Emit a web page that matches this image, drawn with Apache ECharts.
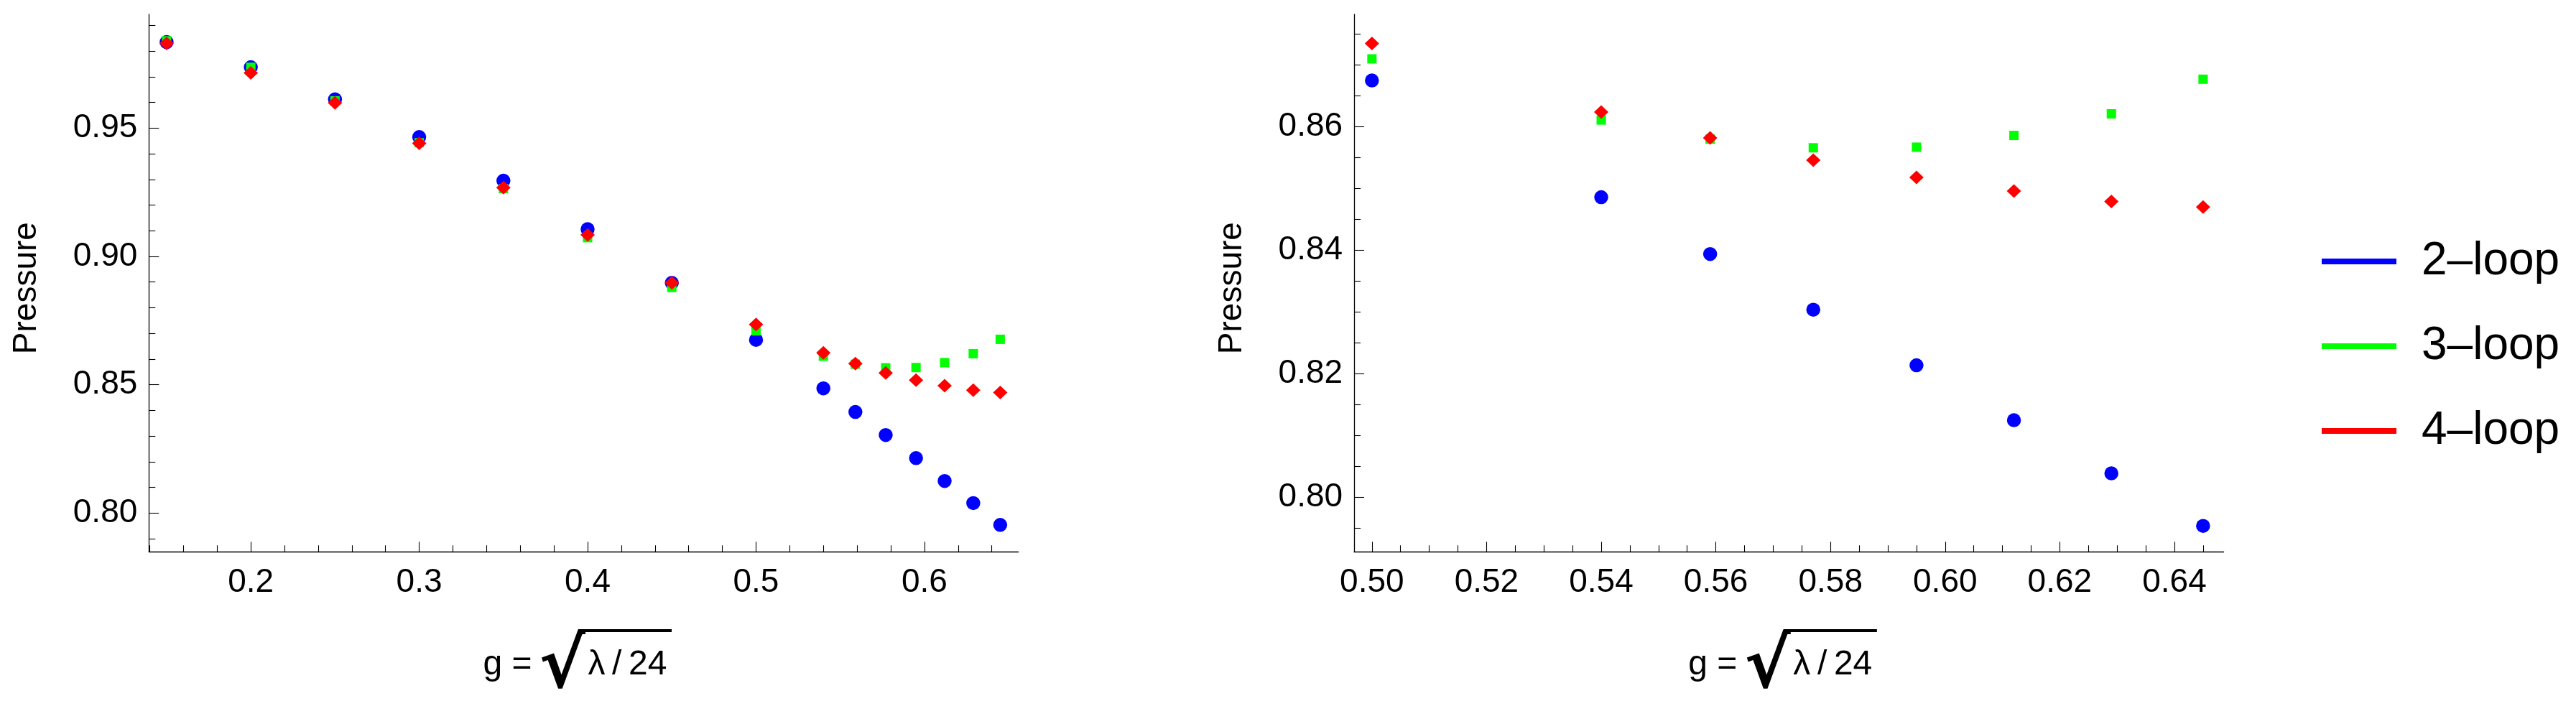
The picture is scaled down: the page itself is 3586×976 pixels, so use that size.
<!DOCTYPE html>
<html>
<head>
<meta charset="utf-8">
<script src="https://cdn.jsdelivr.net/npm/echarts@6/dist/echarts.min.js"></script>
<style>html,body{margin:0;padding:0;background:#fff}#c{width:3586px;height:976px}</style>
</head>
<body>
<div id="c"></div>
<script>
// ---------- data ----------
const g     = [0.15, 0.20, 0.25, 0.30, 0.35, 0.40, 0.45, 0.50, 0.540, 0.559, 0.577, 0.595, 0.612, 0.629, 0.645];
const loop2 = [0.9835, 0.9737, 0.9612, 0.9465, 0.9295, 0.9106, 0.8897, 0.8675, 0.8486, 0.8394, 0.8304, 0.8214, 0.8125, 0.8039, 0.7954];
const loop3 = [0.9840, 0.9737, 0.9606, 0.9443, 0.9264, 0.9073, 0.8879, 0.8710, 0.8611, 0.8580, 0.8566, 0.8567, 0.8586, 0.8621, 0.8677];
const loop4 = [0.9830, 0.9715, 0.9598, 0.9441, 0.9268, 0.9084, 0.8897, 0.8735, 0.8624, 0.8582, 0.8546, 0.8518, 0.8496, 0.8479, 0.8470];
const seriesNames = ['2\u2013loop', '3\u2013loop', '4\u2013loop'];
const yTitle = 'Pressure';

const leftXMajor  = [0.2, 0.3, 0.4, 0.5, 0.6];
const leftXMinor  = [0.14, 0.16, 0.18, 0.22, 0.24, 0.26, 0.28, 0.32, 0.34, 0.36, 0.38, 0.42, 0.44, 0.46, 0.48, 0.52, 0.54, 0.56, 0.58, 0.62, 0.64];
const leftYMajor  = [0.80, 0.85, 0.90, 0.95];
const leftYMinor  = [0.79, 0.81, 0.82, 0.83, 0.84, 0.86, 0.87, 0.88, 0.89, 0.91, 0.92, 0.93, 0.94, 0.96, 0.97, 0.98, 0.99];
const rightXMajor = [0.50, 0.52, 0.54, 0.56, 0.58, 0.60, 0.62, 0.64];
const rightXMinor = [0.505, 0.51, 0.515, 0.525, 0.53, 0.535, 0.545, 0.55, 0.555, 0.565, 0.57, 0.575, 0.585, 0.59, 0.595, 0.605, 0.61, 0.615, 0.625, 0.63, 0.635, 0.645];
const rightYMajor = [0.80, 0.82, 0.84, 0.86];
const rightYMinor = [0.795, 0.805, 0.81, 0.815, 0.825, 0.83, 0.835, 0.845, 0.85, 0.855, 0.865, 0.87, 0.875];

// ---------- layout / style ----------
const FONT = 'Liberation Sans';
const colors = ['#0000ff', '#00ff00', '#ff0000'];
const symbols = ['circle', 'rect', 'diamond'];
const symbolSizes = [19.5, 13, [20, 19]];
const grids = [
  {left: 207.3, top: 20, width: 1210.4, height: 748.3},
  {left: 1885.1, top: 20, width: 1210.5, height: 748.3}
];
const ranges = [
  {x: [0.1395, 0.6558], y: [0.7849, 0.9943], xd: 1, yd: 2},
  {x: [0.4969, 0.6486], y: [0.7912, 0.8782], xd: 2, yd: 2}
];
const ticks = [
  {xM: leftXMajor, xm: leftXMinor, yM: leftYMajor, ym: leftYMinor},
  {xM: rightXMajor, xm: rightXMinor, yM: rightYMajor, ym: rightYMinor}
];
const axisCol = '#000';

function mkAxis(isX, gi, major, values, digits, withName) {
  const r = ranges[gi];
  const ax = {
    type: 'value', gridIndex: gi,
    min: isX ? r.x[0] : r.y[0], max: isX ? r.x[1] : r.y[1],
    position: isX ? 'bottom' : 'left',
    splitLine: {show: false},
    axisLine: {show: major, onZero: false, lineStyle: {color: axisCol, width: 1.3}},
    axisTick: {show: true, inside: true, length: major ? 14 : 9, customValues: values,
               lineStyle: {color: axisCol, width: 1.1}},
    axisLabel: major ? {show: true, customValues: values, fontSize: 46, fontFamily: FONT, color: '#000',
                        margin: isX ? 20 : 16, formatter: v => v.toFixed(digits)} : {show: false}
  };
  if (withName) {
    ax.name = yTitle;
    ax.nameLocation = 'middle';
    ax.nameRotate = 90;
    ax.nameGap = 147;
    ax.nameTextStyle = {fontSize: 46, fontFamily: FONT, color: '#000', padding: [0, 14, 0, 0]};
  }
  return ax;
}

const xAxes = [], yAxes = [], series = [];
for (let gi = 0; gi < 2; gi++) {
  const t = ticks[gi], r = ranges[gi];
  xAxes.push(mkAxis(true, gi, true, t.xM, r.xd, false));
  xAxes.push(mkAxis(true, gi, false, t.xm, r.xd, false));
  yAxes.push(mkAxis(false, gi, true, t.yM, r.yd, true));
  yAxes.push(mkAxis(false, gi, false, t.ym, r.yd, false));
  const gMin = gi === 0 ? 0 : 0.5;
  [loop2, loop3, loop4].forEach((arr, k) => {
    const pts = [];
    g.forEach((gx, i) => { if (gx >= gMin - 1e-9) pts.push([gx, arr[i]]); });
    series.push({
      type: 'scatter', name: seriesNames[k], xAxisIndex: gi * 2, yAxisIndex: gi * 2,
      data: pts, symbol: symbols[k], symbolSize: symbolSizes[k],
      itemStyle: {color: colors[k], opacity: 1}, z: 2 + k
    });
  });
}

// ---------- x axis title:  g = sqrt(lambda/24) ----------
const ctx = document.createElement('canvas').getContext('2d');
function meas(text, size, fam, weight) {
  ctx.font = (weight ? weight + ' ' : '') + size + 'px ' + fam;
  ctx.textBaseline = 'alphabetic';
  const a = ctx.measureText(text);
  ctx.textBaseline = 'middle';
  const m = ctx.measureText(text);
  return {L: a.actualBoundingBoxLeft, R: a.actualBoundingBoxRight,
          ascA: a.actualBoundingBoxAscent, desA: a.actualBoundingBoxDescent,
          ascM: m.actualBoundingBoxAscent, mid: a.actualBoundingBoxAscent - m.actualBoundingBoxAscent};
}
const XT = 48;
const radFam = 'DejaVu Sans';
const radWeight = 'bold';
const rm = meas('\u221a', 100, radFam, radWeight);
const radSize = 100 * 83 / (rm.ascA + rm.desA);
const fracText = '\u03bb\u2009/\u200924';
function xTitle(cx) {
  const baseline = 939;
  const ga = meas('g =', XT, FONT);
  const fr = meas(fracText, XT, FONT);
  const rr = meas('\u221a', radSize, radFam, radWeight);
  const radTop = 876, radRight = cx + 3;
  const radX = radRight - rr.R;
  const radInkLeft = radX - rr.L;
  const els = [];
  els.push({type: 'text', x: radInkLeft - 15 - ga.R, y: baseline - ga.mid,
    style: {text: 'g =', fontSize: XT, fontFamily: FONT, fill: '#000', align: 'left', verticalAlign: 'middle'}});
  els.push({type: 'text', x: radX, y: radTop + rr.ascM,
    style: {text: '\u221a', fontSize: radSize, fontFamily: radFam, fontWeight: radWeight, fill: '#000', align: 'left', verticalAlign: 'middle'}});
  els.push({type: 'text', x: cx + 6 + fr.L, y: baseline - fr.mid,
    style: {text: fracText, fontSize: XT, fontFamily: FONT, fill: '#000', align: 'left', verticalAlign: 'middle'}});
  els.push({type: 'line', shape: {x1: radRight - 2, y1: radTop + 2, x2: cx + 122.5, y2: radTop + 2},
    style: {stroke: '#000', lineWidth: 4}});
  return els;
}
const graphics = [];
grids.forEach(gr => xTitle(gr.left + gr.width / 2).forEach(e => graphics.push(e)));

const chart = echarts.init(document.getElementById('c'), null, {renderer: 'canvas'});
chart.setOption({
  animation: false,
  backgroundColor: '#fff',
  grid: grids,
  xAxis: xAxes,
  yAxis: yAxes,
  series: series,
  legend: {
    orient: 'vertical', left: 3227, top: 323, itemWidth: 104, itemHeight: 8, itemGap: 46,
    icon: 'rect', data: seriesNames, selectedMode: false,
    textStyle: {fontSize: 64, fontFamily: FONT, color: '#000', lineHeight: 72, padding: [0, 0, 0, 30]}
  },
  graphic: graphics
});
</script>
</body>
</html>
